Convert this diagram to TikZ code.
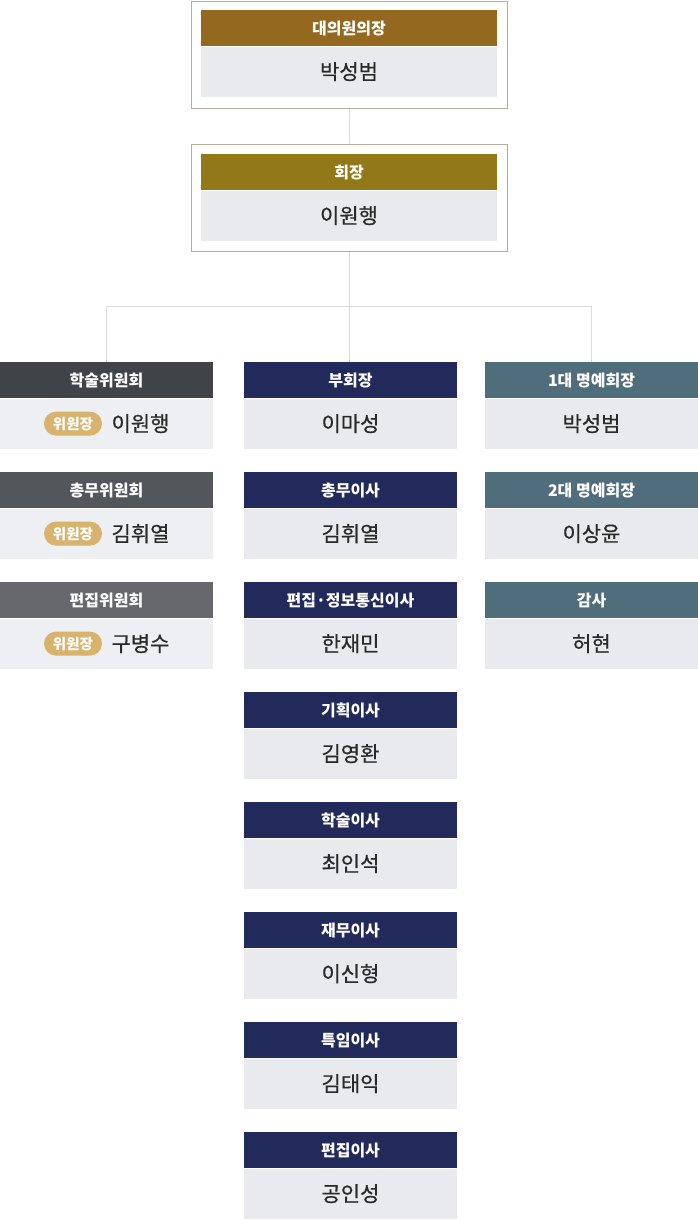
\documentclass[tikz,border=0pt]{standalone}
\usepackage{fontspec}
\setmainfont{Noto Sans CJK KR}
\newfontfamily\namefont[FakeBold=0.6]{Noto Sans CJK KR}
\usetikzlibrary{positioning}

\definecolor{chairbrown}{HTML}{94681E}
\definecolor{presolive}{HTML}{93781A}
\definecolor{boxline}{HTML}{B8AD98}
\definecolor{linkgray}{HTML}{DCDCDC}
\definecolor{bodygray}{HTML}{E9EAEE}
\definecolor{leftbody}{HTML}{EEEFF3}
\definecolor{navy}{HTML}{212A5B}
\definecolor{slateteal}{HTML}{4F6D7A}
\definecolor{leftA}{HTML}{404448}
\definecolor{leftB}{HTML}{53565A}
\definecolor{leftC}{HTML}{66686D}
\definecolor{badgegold}{HTML}{D8B36E}
\definecolor{nametext}{HTML}{2A2A2A}

\def\rowsep{110}

\begin{document}
\begin{tikzpicture}[x=1pt,y=1pt]
    \tikzstyle{outerbox}=[draw=boxline,line width=1pt,minimum width=316pt,minimum height=107pt,inner sep=0pt]
    \tikzstyle{title}=[minimum width=213pt,minimum height=36pt,inner sep=0pt,text=white,font=\fontsize{16}{16}\selectfont\bfseries]
    \tikzstyle{person}=[fill=bodygray,minimum width=213pt,minimum height=50pt,inner sep=0pt,text=nametext,font=\fontsize{21}{21}\namefont]
    \tikzstyle{badge}=[fill=badgegold,rounded corners=12pt,minimum width=58pt,minimum height=24pt,inner sep=0pt,text=white,font=\fontsize{14.5}{14.5}\selectfont\bfseries]
    \tikzstyle{link}=[draw=linkgray,line width=1pt]

    \useasboundingbox (0,0) rectangle (698,-1221);

    % top two boxes
    \node[outerbox,anchor=north] (chair-box) at (349,-0.5) {};
    \node[title,fill=chairbrown,minimum width=296pt,anchor=north] (chair-t) at (349,-10) {대의원의장};
    \node[person,minimum width=296pt,below=0pt of chair-t] (chair-n) {박성범};

    \node[outerbox,anchor=north] (pres-box) at (349,-144) {};
    \node[title,fill=presolive,minimum width=296pt,anchor=north] (pres-t) at (349,-154) {회장};
    \node[person,minimum width=296pt,below=0pt of pres-t] (pres-n) {이원행};

    % left column
    \foreach \i/\head/\who/\col in {1/학술위원회/이원행/leftA,2/총무위원회/김휘열/leftB,3/편집위원회/구병수/leftC}{
        \node[title,fill=\col,anchor=north] (L-\i-t) at (106.5,{-362-\rowsep*(\i-1)}) {\head};
        \node[person,fill=leftbody,below=0pt of L-\i-t] (L-\i-n) {};
        \node[badge] (L-\i-b) at ([xshift=-33.5pt]L-\i-n.center) {위원장};
        \node[text=nametext,font=\fontsize{21}{21}\namefont,inner sep=0pt] (L-\i-w) at ([xshift=34pt]L-\i-n.center) {\who};
    }

    % center column
    \foreach \i/\head/\who in {1/부회장/이마성,2/총무이사/김휘열,3/편집·정보통신이사/한재민,4/기획이사/김영환,
                               5/학술이사/최인석,6/재무이사/이신형,7/특임이사/김태익,8/편집이사/공인성}{
        \node[title,fill=navy,anchor=north] (C-\i-t) at (350.5,{-362-\rowsep*(\i-1)}) {\head};
        \node[person,below=0pt of C-\i-t] (C-\i-n) {\who};
    }

    % right column
    \foreach \i/\head/\who in {1/1대 명예회장/박성범,2/2대 명예회장/이상윤,3/감사/허현}{
        \node[title,fill=slateteal,anchor=north] (R-\i-t) at (591.5,{-362-\rowsep*(\i-1)}) {\head};
        \node[person,below=0pt of R-\i-t] (R-\i-n) {\who};
    }

    % connectors
    \coordinate (branch) at (349,-306);
    \draw[link] (chair-box.south) -- (pres-box.north);
    \draw[link] (pres-box.south) -- (branch);
    \draw[link] (branch) -| (L-1-t.north);
    \draw[link] (branch) -- (branch |- C-1-t.north);
    \draw[link] (branch) -| (R-1-t.north);
\end{tikzpicture}
\end{document}
